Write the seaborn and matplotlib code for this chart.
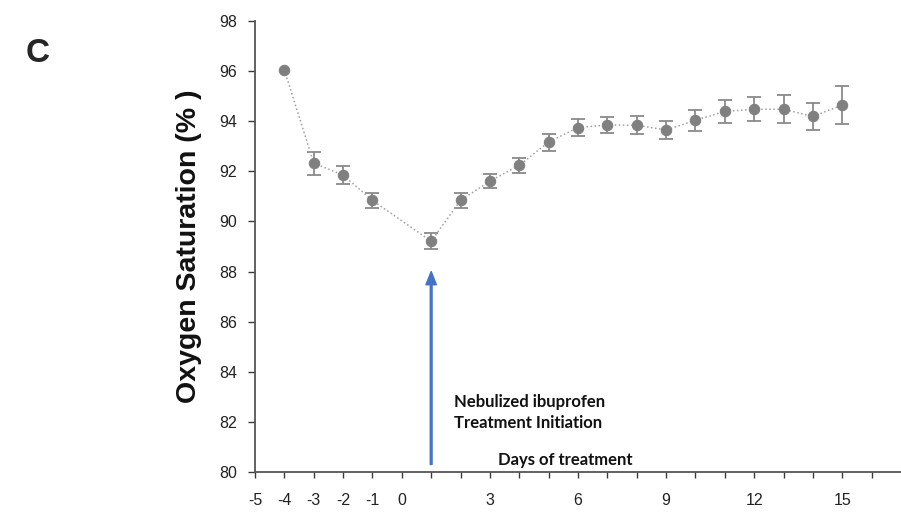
import matplotlib
matplotlib.use('Agg')
import matplotlib.pyplot as plt
import seaborn as sns
import pandas as pd
import numpy as np

# Data
days = [-4, -3, -2, -1, 1, 2, 3, 4, 5, 6, 7, 8, 9, 10, 11, 12, 13, 14, 15]
spo2 = [96.05, 92.33, 91.85, 90.84, 89.21, 90.84, 91.61, 92.24, 93.17, 93.75,
        93.85, 93.84, 93.65, 94.04, 94.39, 94.48, 94.48, 94.19, 94.65]
sem = [np.nan, 0.46, 0.35, 0.29, 0.32, 0.29, 0.27, 0.31, 0.34, 0.32,
       0.33, 0.36, 0.36, 0.41, 0.45, 0.47, 0.55, 0.53, 0.77]
xtick_labels = ['-5', '-4', '-3', '-2', '-1', '0', '3', '6', '9', '12', '15']
ytick_values = [80, 82, 84, 86, 88, 90, 92, 94, 96, 98]

df = pd.DataFrame({'day': days, 'spo2': spo2, 'sem': sem})

sns.set_style('ticks')
plt.rcParams['font.family'] = ['Liberation Sans', 'DejaVu Sans']

fig = plt.figure(figsize=(9.01, 5.13), dpi=100)
ax = fig.add_axes([0.283, 0.080, 0.717, 0.879])

# Error bars (first point has none)
eb = df.dropna()
ax.errorbar(eb['day'], eb['spo2'], yerr=eb['sem'], fmt='none',
            ecolor='#8a8a8a', elinewidth=1.3, capsize=4.8, capthick=1.3, zorder=2)

# Dotted line with markers
sns.lineplot(data=df, x='day', y='spo2', ax=ax, color='#a0a0a0', linestyle=':',
             linewidth=1.1, marker='o', markersize=7.5, markerfacecolor='#808080',
             markeredgecolor='#808080', zorder=3)

ax.set_xlim(-5, 17)
ax.set_ylim(80, 98)
ax.set_xticks(range(-5, 17))
ax.set_xticklabels([l if l in xtick_labels else '' for l in [str(v) for v in range(-5, 17)]])
ax.set_yticks(ytick_values)
ax.tick_params(axis='both', labelsize=11.5, colors='#3a3a3a', width=1)
ax.tick_params(axis='x', length=4, pad=11)
ax.tick_params(axis='y', length=5, pad=8)
for lab in ax.get_xticklabels() + ax.get_yticklabels():
    lab.set_color('#222222')

sns.despine(ax=ax)
for s in ['left', 'bottom']:
    ax.spines[s].set_color('#555555')
    ax.spines[s].set_linewidth(1.3)

ax.set_xlabel('')
ax.set_ylabel('Oxygen Saturation (% )', fontsize=20.5, fontweight='bold',
              color='#111111', labelpad=12)

# Treatment arrow
ax.annotate('', xy=(1, 88.0), xytext=(1, 80.3),
            arrowprops=dict(color='#4472C4', width=1.3, headwidth=7.5, headlength=9.5, shrink=0))

note_font = ['Lato', 'DejaVu Sans']
ax.text(1.78, 82.8, 'Nebulized ibuprofen', fontsize=12, fontweight='bold',
        family=note_font, va='center', ha='left', color='#111111')
ax.text(1.78, 81.95, 'Treatment Initiation', fontsize=12, fontweight='bold',
        family=note_font, va='center', ha='left', color='#111111')
ax.text(3.26, 80.47, 'Days of treatment', fontsize=12, fontweight='bold',
        family=note_font, va='center', ha='left', color='#111111')

fig.text(0.042, 0.895, 'C', fontsize=24, fontweight='bold', va='center', ha='center')

fig.savefig('out.png', dpi=100)
